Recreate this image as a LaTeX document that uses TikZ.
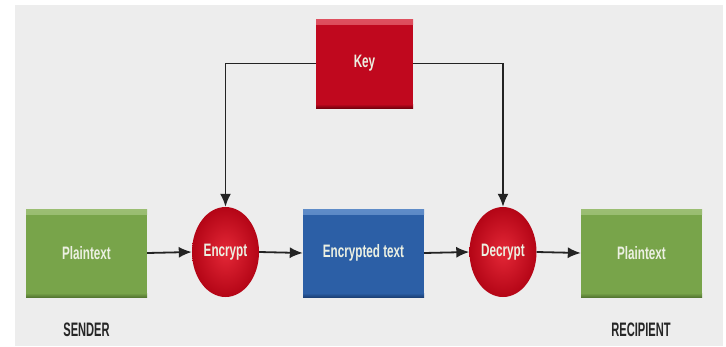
\documentclass[tikz,border=0pt]{standalone}
\usepackage{fontspec}
\usetikzlibrary{shapes.geometric,arrows.meta}
\newfontfamily\boxfont[FakeStretch=0.65]{Liberation Sans Bold}
\newfontfamily\rolefont[FakeStretch=0.57]{Liberation Sans Bold}
\definecolor{bg}{RGB}{237,237,237}
\definecolor{kred}{RGB}{192,8,30}
\definecolor{kredlite}{RGB}{222,80,95}
\definecolor{kreddark}{RGB}{120,0,14}
\definecolor{kgreen}{RGB}{120,164,74}
\definecolor{kgreenlite}{RGB}{155,190,115}
\definecolor{kgreendark}{RGB}{85,120,50}
\definecolor{kblue}{RGB}{44,95,166}
\definecolor{kbluelite}{RGB}{95,140,200}
\definecolor{kbluedark}{RGB}{28,65,120}
\definecolor{ctext}{RGB}{236,240,226}
\definecolor{cline}{RGB}{35,35,35}
\definecolor{ballin}{RGB}{228,40,55}
\definecolor{ballout}{RGB}{180,5,22}
\tikzset{
  boxnode/.style n args={3}{rectangle, inner sep=0pt, minimum width=121pt, minimum height=88pt,
    fill=#1, text=ctext, font=\boxfont\fontsize{18}{20}\selectfont,
    path picture={
      \fill[top color=#2, bottom color=#1] (path picture bounding box.north west) rectangle ([yshift=-5pt]path picture bounding box.north east);
      \fill[top color=#1, bottom color=#3] ([yshift=4pt]path picture bounding box.south west) rectangle (path picture bounding box.south east);
    }},
  ballnode/.style={ellipse, inner sep=0pt, minimum width=67pt, minimum height=90pt,
    inner color=ballin, outer color=ballout, text=ctext, font=\boxfont\fontsize{18}{20}\selectfont},
  role/.style={text=black!85, font=\rolefont\fontsize{19.5}{22}\selectfont, inner sep=0pt},
  conn/.style={draw=cline, line width=1.8pt, -{Latex[length=13pt,width=11pt]}}
}
\begin{document}
\begin{tikzpicture}[x=1pt,y=-1pt]
\useasboundingbox (0,0) rectangle (726,346);
\fill[white] (0,0) rectangle (726,346);
\fill[bg] (15,5) rectangle (723,346);
\node[boxnode={kred}{kredlite}{kreddark}, minimum width=97pt, minimum height=89pt] (key) at (364.5,63.5) {Key};
\node[boxnode={kgreen}{kgreenlite}{kgreendark}] (p1) at (86.5,253) {Plaintext};
\node[ballnode] (enc) at (225.5,252) {Encrypt};
\node[boxnode={kblue}{kbluelite}{kbluedark}] (et) at (363.5,253) {Encrypted text};
\node[ballnode] (dec) at (503,252) {Decrypt};
\node[boxnode={kgreen}{kgreenlite}{kgreendark}] (p2) at (641.5,253) {Plaintext};
\node[role] (snd) at (86.5,330) {SENDER};
\node[role] (rcp) at (641,330) {RECIPIENT};
\draw[conn] (key.west) -| (enc.north);
\draw[conn] (key.east) -| (dec.north);
\draw[conn] (p1.east) -- (enc.west);
\draw[conn] (enc.east) -- (et.west);
\draw[conn] (et.east) -- (dec.west);
\draw[conn] (dec.east) -- (p2.west);
\end{tikzpicture}
\end{document}
